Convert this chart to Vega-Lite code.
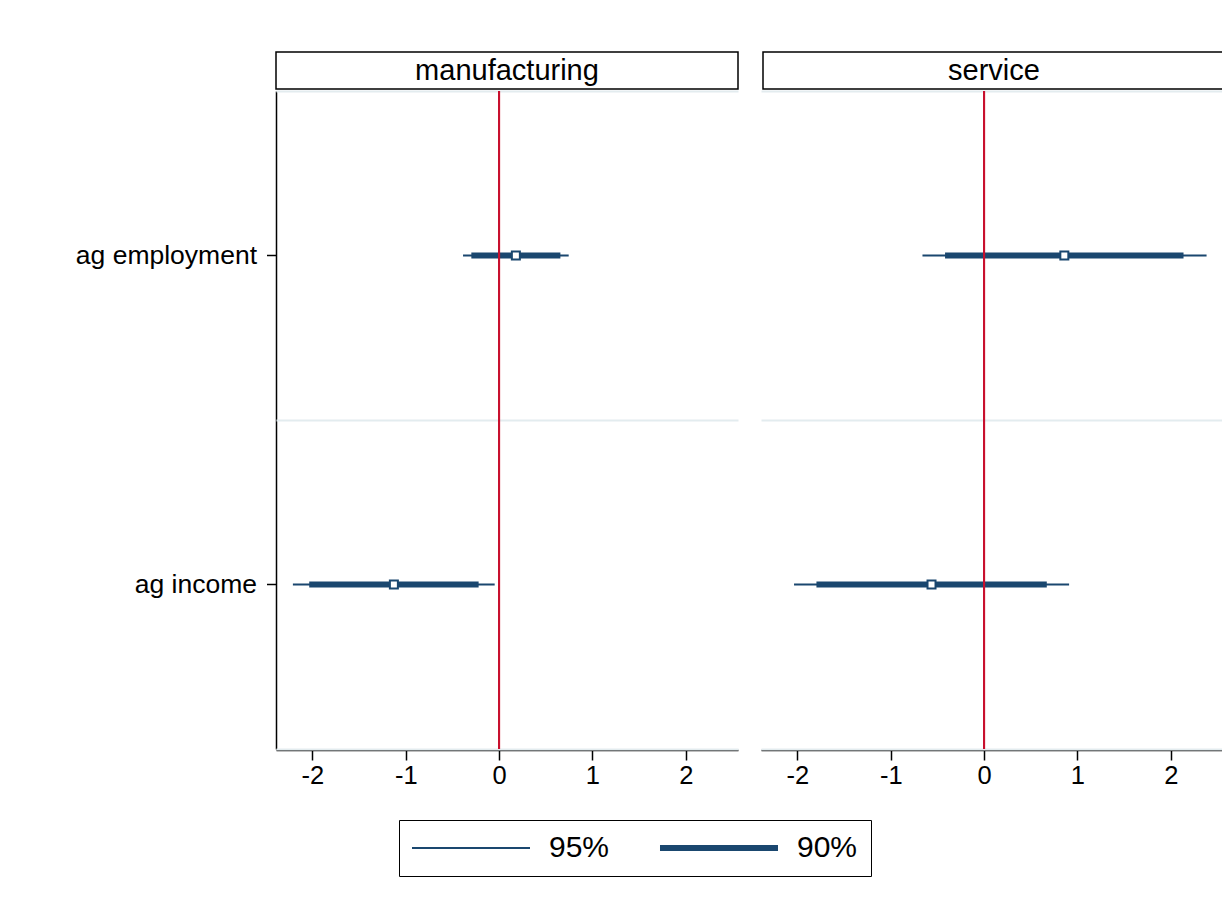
{
  "$schema": "https://vega.github.io/schema/vega-lite/v6.json",
  "background": "white",
  "padding": {"left": 75, "top": 51, "right": 0, "bottom": 10},
  "config": {
    "font": "Liberation Sans",
    "view": {"stroke": null},
    "axis": {
      "labelFont": "Liberation Sans",
      "labelColor": "black",
      "domainColor": "black",
      "tickColor": "black",
      "domainWidth": 1.5,
      "tickWidth": 1.5,
      "grid": false,
      "title": null
    }
  },
  "datasets": {
    "panels": [
      {"panel": "manufacturing"},
      {"panel": "service"}
    ],
    "estimates": [
      {"panel": "manufacturing", "variable": "ag employment", "b": 0.18, "lo95": -0.386, "hi95": 0.746, "lo90": -0.297, "hi90": 0.657},
      {"panel": "manufacturing", "variable": "ag income", "b": -1.127, "lo95": -2.209, "hi95": -0.047, "lo90": -2.034, "hi90": -0.219},
      {"panel": "service", "variable": "ag employment", "b": 0.86, "lo95": -0.66, "hi95": 2.384, "lo90": -0.418, "hi90": 2.137},
      {"panel": "service", "variable": "ag income", "b": -0.563, "lo95": -2.036, "hi95": 0.911, "lo90": -1.796, "hi90": 0.672}
    ]
  },
  "spacing": 0,
  "vconcat": [
    {
      "data": {"name": "panels"},
      "facet": {"column": {"field": "panel", "header": null, "sort": ["manufacturing", "service"]}},
      "spacing": 23,
      "spec": {
        "width": 462,
        "height": 37,
        "view": {"stroke": "black", "strokeWidth": 1.5},
        "mark": {"type": "text", "fontSize": 29, "color": "black", "font": "Liberation Sans", "baseline": "middle", "align": "center"},
        "encoding": {"text": {"field": "panel"}}
      }
    },
    {
      "data": {"name": "estimates"},
      "facet": {"column": {"field": "panel", "header": null, "sort": ["manufacturing", "service"]}},
      "spacing": 23,
      "spec": {
        "width": 462,
        "height": 658,
        "resolve": {"axis": {"y": "independent"}},
        "layer": [
          {
            "mark": {"type": "point", "opacity": 0},
            "encoding": {
              "x": {"field": "b", "type": "quantitative"},
              "y": {
                "field": "variable", "type": "nominal",
                "scale": {"type": "band", "domain": ["ag employment", "ag income"], "paddingInner": 0, "paddingOuter": 0},
                "axis": {"orient": "right", "grid": true, "gridColor": "#e3ecef", "gridWidth": 2, "tickBand": "extent", "labels": false, "ticks": false, "domain": false}
              }
            }
          },
          {
            "mark": {"type": "rule", "color": "#1a476f"},
            "encoding": {
              "x": {
                "field": "lo95", "type": "quantitative",
                "scale": {"domain": [-2.39, 2.56], "nice": false, "zero": false},
                "axis": {"values": [-2, -1, 0, 1, 2], "labelExpr": "'' + datum.value", "tickSize": 10, "labelFontSize": 25.5, "labelPadding": 3, "domainColor": "black", "domainWidth": 1.5}
              },
              "x2": {"field": "hi95"},
              "y": {
                "field": "variable", "type": "nominal", "bandPosition": 0.5,
                "axis": {"orient": "left", "tickSize": 9.5, "labelFontSize": 26.5, "labelPadding": 10, "labelLimit": 400}
              },
              "strokeWidth": {
                "datum": "95%", "type": "ordinal",
                "scale": {"domain": ["95%", "90%"], "range": [2, 6]},
                "legend": {
                  "orient": "none", "legendX": 123, "legendY": 768,
                  "direction": "horizontal", "columns": 2, "title": null,
                  "symbolType": "M-5,0H5", "symbolSize": 557, "symbolStrokeColor": "#1a476f",
                  "symbolOffset": 44,
                  "labelFontSize": 30, "labelFont": "Liberation Sans", "labelColor": "black",
                  "labelOffset": 63, "columnPadding": 37, "padding": 13,
                  "strokeColor": "black"
                }
              }
            }
          },
          {
            "mark": {"type": "rule", "color": "#1a476f"},
            "encoding": {
              "x": {"field": "lo90", "type": "quantitative"},
              "x2": {"field": "hi90"},
              "y": {"field": "variable", "type": "nominal", "bandPosition": 0.5, "axis": null},
              "strokeWidth": {"datum": "90%", "type": "ordinal"}
            }
          },
          {
            "mark": {"type": "point", "shape": "square", "filled": true, "fill": "white", "stroke": "#1a476f", "strokeWidth": 2, "size": 64, "opacity": 1},
            "encoding": {
              "x": {"field": "b", "type": "quantitative"},
              "y": {"field": "variable", "type": "nominal", "bandPosition": 0.5, "axis": null}
            }
          },
          {
            "mark": {"type": "rule", "color": "#c8102e", "strokeWidth": 2},
            "encoding": {"x": {"datum": 0}}
          }
        ]
      }
    }
  ]
}
